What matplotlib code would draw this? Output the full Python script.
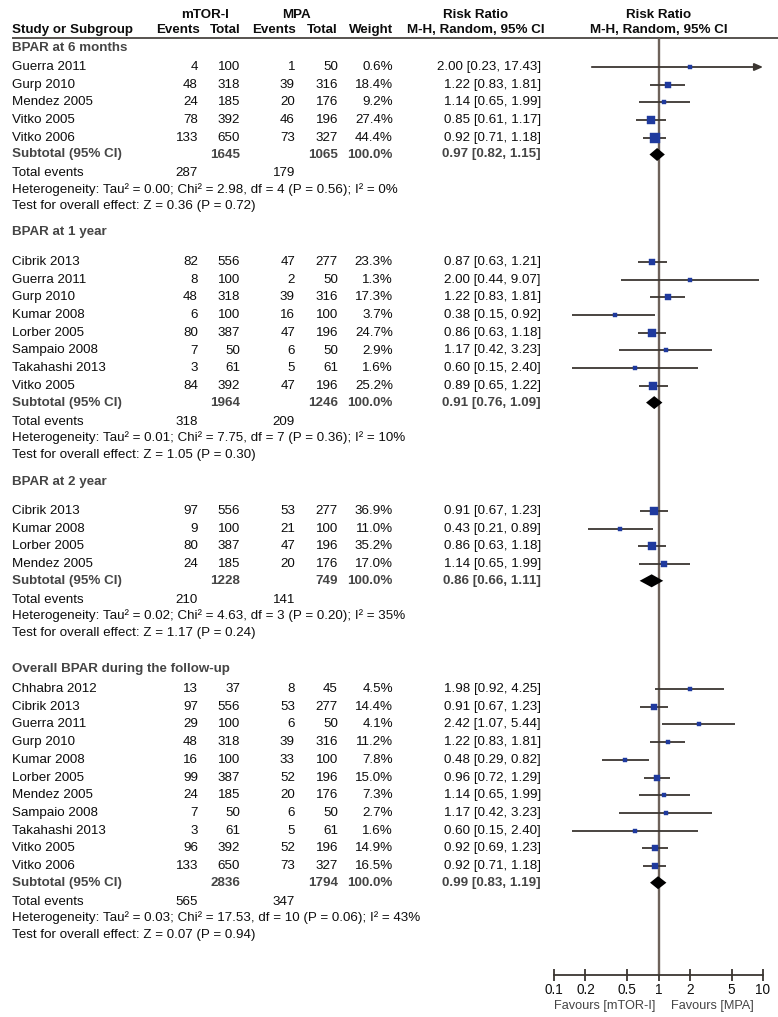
import matplotlib
matplotlib.use("Agg")
import matplotlib.pyplot as plt
import numpy as np

plt.rcParams["font.family"] = ["Liberation Sans", "DejaVu Sans"]

# ── data ─────────────────────────────────────────────────────────────────────
GROUPS = ["BPAR at 6 months", "BPAR at 1 year", "BPAR at 2 year",
          "Overall BPAR during the follow-up"]

study = ["Guerra 2011", "Gurp 2010", "Mendez 2005", "Vitko 2005", "Vitko 2006",
         "Cibrik 2013", "Guerra 2011", "Gurp 2010", "Kumar 2008", "Lorber 2005",
         "Sampaio 2008", "Takahashi 2013", "Vitko 2005",
         "Cibrik 2013", "Kumar 2008", "Lorber 2005", "Mendez 2005",
         "Chhabra 2012", "Cibrik 2013", "Guerra 2011", "Gurp 2010", "Kumar 2008",
         "Lorber 2005", "Mendez 2005", "Sampaio 2008", "Takahashi 2013",
         "Vitko 2005", "Vitko 2006"]
group_of = [0]*5 + [1]*8 + [2]*4 + [3]*11
ev_mtor = [4, 48, 24, 78, 133,
           82, 8, 48, 6, 80, 7, 3, 84,
           97, 9, 80, 24,
           13, 97, 29, 48, 16, 99, 24, 7, 3, 96, 133]
n_mtor = [100, 318, 185, 392, 650,
          556, 100, 318, 100, 387, 50, 61, 392,
          556, 100, 387, 185,
          37, 556, 100, 318, 100, 387, 185, 50, 61, 392, 650]
ev_mpa = [1, 39, 20, 46, 73,
          47, 2, 39, 16, 47, 6, 5, 47,
          53, 21, 47, 20,
          8, 53, 6, 39, 33, 52, 20, 6, 5, 52, 73]
n_mpa = [50, 316, 176, 196, 327,
         277, 50, 316, 100, 196, 50, 61, 196,
         277, 100, 196, 176,
         45, 277, 50, 316, 100, 196, 176, 50, 61, 196, 327]
weight = [0.6, 18.4, 9.2, 27.4, 44.4,
          23.3, 1.3, 17.3, 3.7, 24.7, 2.9, 1.6, 25.2,
          36.9, 11.0, 35.2, 17.0,
          4.5, 14.4, 4.1, 11.2, 7.8, 15.0, 7.3, 2.7, 1.6, 14.9, 16.5]
rr = [2.00, 1.22, 1.14, 0.85, 0.92,
      0.87, 2.00, 1.22, 0.38, 0.86, 1.17, 0.60, 0.89,
      0.91, 0.43, 0.86, 1.14,
      1.98, 0.91, 2.42, 1.22, 0.48, 0.96, 1.14, 1.17, 0.60, 0.92, 0.92]
ci_lo = [0.23, 0.83, 0.65, 0.61, 0.71,
         0.63, 0.44, 0.83, 0.15, 0.63, 0.42, 0.15, 0.65,
         0.67, 0.21, 0.63, 0.65,
         0.92, 0.67, 1.07, 0.83, 0.29, 0.72, 0.65, 0.42, 0.15, 0.69, 0.71]
ci_hi = [17.43, 1.81, 1.99, 1.17, 1.18,
         1.21, 9.07, 1.81, 0.92, 1.18, 3.23, 2.40, 1.22,
         1.23, 0.89, 1.18, 1.99,
         4.25, 1.23, 5.44, 1.81, 0.82, 1.29, 1.99, 3.23, 2.40, 1.23, 1.18]

sub_n_mtor = [1645, 1964, 1228, 2836]
sub_n_mpa = [1065, 1246, 749, 1794]
sub_rr = [0.97, 0.91, 0.86, 0.99]
sub_lo = [0.82, 0.76, 0.66, 0.83]
sub_hi = [1.15, 1.09, 1.11, 1.19]
tot_ev_mtor = [287, 318, 210, 565]
tot_ev_mpa = [179, 209, 141, 347]
het_text = ["Tau\u00b2 = 0.00; Chi\u00b2 = 2.98, df = 4 (P = 0.56); I\u00b2 = 0%",
            "Tau\u00b2 = 0.01; Chi\u00b2 = 7.75, df = 7 (P = 0.36); I\u00b2 = 10%",
            "Tau\u00b2 = 0.02; Chi\u00b2 = 4.63, df = 3 (P = 0.20); I\u00b2 = 35%",
            "Tau\u00b2 = 0.03; Chi\u00b2 = 17.53, df = 10 (P = 0.06); I\u00b2 = 43%"]
z_text = ["Z = 0.36 (P = 0.72)", "Z = 1.05 (P = 0.30)",
          "Z = 1.17 (P = 0.24)", "Z = 0.07 (P = 0.94)"]

TICKS = [0.1, 0.2, 0.5, 1, 2, 5, 10]
TICK_LABELS = ["0.1", "0.2", "0.5", "1", "2", "5", "10"]

# ── layout (pixels) ──────────────────────────────────────────────────────────
W, H = 778, 1017
ROW = 17.7
AXIS_Y = 975
PLOT_X0, PLOT_X1 = 554, 763
X_NAME, X_EV1, X_N1, X_EV2, X_N2, X_W, X_RR = 12, 198, 240, 295, 338, 393, 541
TEXT = "#0d0d0d"
GREY = "#454545"
LINE = "#3b3631"
VLINE = "#6e625a"
BLUE = "#1f3a9e"
FS = 9.6

fig = plt.figure(figsize=(W/100, H/100), dpi=100, facecolor="white")

# text layer
axt = fig.add_axes([0, 0, 1, 1])
axt.set_xlim(0, W); axt.set_ylim(H, 0); axt.axis("off")

# plot layer (log scale, same pixel y)
axp = fig.add_axes([PLOT_X0/W, (H-AXIS_Y)/H, (PLOT_X1-PLOT_X0)/W, AXIS_Y/H])
axp.set_facecolor("none")
axp.set_xscale("log")
axp.set_xlim(0.1, 10)
axp.set_ylim(AXIS_Y, 0)
for s in ["top", "right", "left"]:
    axp.spines[s].set_visible(False)
axp.spines["bottom"].set_color(LINE)
axp.spines["bottom"].set_linewidth(1.3)
axp.set_yticks([])
axp.xaxis.set_minor_locator(matplotlib.ticker.NullLocator())
axp.set_xticks(TICKS)
axp.set_xticklabels(TICK_LABELS)
axp.tick_params(axis="x", direction="inout", length=8, width=1.3,
                color=LINE, labelsize=9.8, labelcolor=TEXT, pad=2)


def t(x, y, s, ha="left", bold=False, color=TEXT, fs=FS):
    axt.text(x, y, s, ha=ha, va="center", fontsize=fs, color=color,
             fontweight="bold" if bold else "normal")


# headers
t(205, 15, "mTOR-I", ha="center", bold=True)
t(296, 15, "MPA", ha="center", bold=True)
t(476, 15, "Risk Ratio", ha="center", bold=True)
t(659, 15, "Risk Ratio", ha="center", bold=True)
t(X_NAME, 30, "Study or Subgroup", bold=True)
t(200, 30, "Events", ha="right", bold=True)
t(241, 30, "Total", ha="right", bold=True)
t(296, 30, "Events", ha="right", bold=True)
t(338, 30, "Total", ha="right", bold=True)
t(X_W, 30, "Weight", ha="right", bold=True)
t(476, 30, "M-H, Random, 95% CI", ha="center", bold=True)
t(659, 30, "M-H, Random, 95% CI", ha="center", bold=True)
axt.hlines(38, 12, W, color=LINE, lw=1.2)

# rows
heading_y = [48, 232, 482, 669]
first_y = [67, 262, 511, 689]

for g in range(len(GROUPS)):
    t(X_NAME, heading_y[g], GROUPS[g], bold=True, color=GREY)
    idx = [i for i, gg in enumerate(group_of) if gg == g]
    y = first_y[g]
    for i in idx:
        t(X_NAME, y, study[i])
        t(X_EV1, y, str(ev_mtor[i]), ha="right")
        t(X_N1, y, str(n_mtor[i]), ha="right")
        t(X_EV2, y, str(ev_mpa[i]), ha="right")
        t(X_N2, y, str(n_mpa[i]), ha="right")
        t(X_W, y, f"{weight[i]:.1f}%", ha="right")
        t(X_RR, y, f"{rr[i]:.2f} [{ci_lo[i]:.2f}, {ci_hi[i]:.2f}]", ha="right")
        # CI line
        lo = max(ci_lo[i], 0.1)
        if ci_hi[i] > 10:
            axp.annotate("", xy=(10, y), xytext=(lo, y),
                         arrowprops=dict(arrowstyle="-|>,head_length=0.5,head_width=0.22",
                                         color=LINE, lw=1.3, shrinkA=0, shrinkB=0))
        else:
            axp.hlines(y, lo, ci_hi[i], color=LINE, lw=1.3, zorder=3)
        side = max(3.2, 1.45*np.sqrt(weight[i]))
        axp.plot(rr[i], y, marker="s", ms=side*0.72, color=BLUE, mec=BLUE,
                 mew=0.3, zorder=4)
        y += ROW
    ys = y - 1
    t(X_NAME, ys, "Subtotal (95% CI)", bold=True, color=GREY)
    t(X_N1, ys, str(sub_n_mtor[g]), ha="right", bold=True, color=GREY)
    t(X_N2, ys, str(sub_n_mpa[g]), ha="right", bold=True, color=GREY)
    t(X_W, ys, "100.0%", ha="right", bold=True, color=GREY)
    t(X_RR, ys, f"{sub_rr[g]:.2f} [{sub_lo[g]:.2f}, {sub_hi[g]:.2f}]",
      ha="right", bold=True, color=GREY)
    axp.fill([sub_lo[g], sub_rr[g], sub_hi[g], sub_rr[g]],
             [ys, ys - 6.5, ys, ys + 6.5], color="black", lw=0, zorder=5)
    yt = ys + 19
    t(X_NAME, yt, "Total events")
    t(X_EV1, yt, str(tot_ev_mtor[g]), ha="right")
    t(X_EV2, yt, str(tot_ev_mpa[g]), ha="right")
    t(X_NAME, yt + 16, "Heterogeneity: " + het_text[g])
    t(X_NAME, yt + 33, "Test for overall effect: " + z_text[g])

# line of no effect
axp.vlines(1, 38, AXIS_Y, color=VLINE, lw=1.7, zorder=2)

# favours labels
t(605, 1006, "Favours [mTOR-I]", ha="center", color=GREY, fs=9.2)
t(712, 1006, "Favours [MPA]", ha="center", color=GREY, fs=9.2)

fig.savefig("out.png", dpi=100, facecolor="white")
